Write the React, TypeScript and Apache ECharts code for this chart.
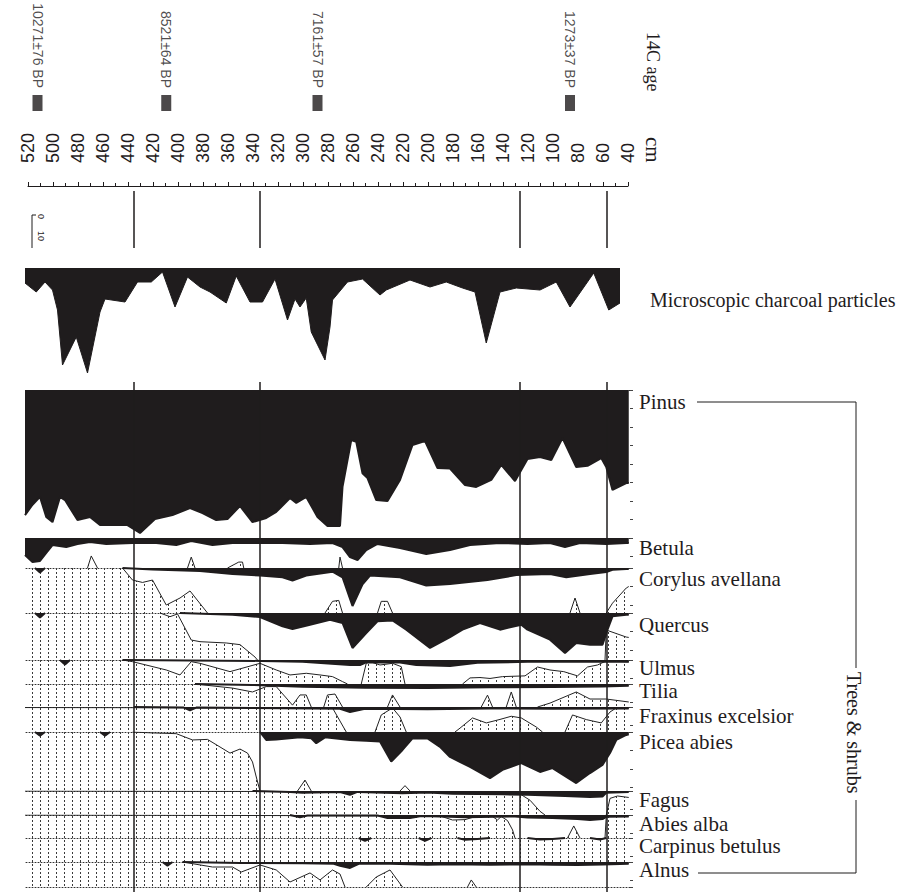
import { useEffect, useRef } from 'react';
import * as echarts from 'echarts';

const INK = '#1f1c1d';

// ---------- data ----------
const dateDepths = [512, 409, 288, 86];
const dateLabels = ['10271±76 BP', '8521±64 BP', '7161±57 BP', '1273±37 BP'];
const zoneDepths = [435, 334, 126, 57];

const charcoal = [[522,7.5],[513,12],[506,7],[500,11],[496,21],[492,48.5],[481,34.5],[472,52.5],[462,22],[458,15.5],[442,17],[432,7],[421,7],[412,2],[402,19.5],[392,4.5],[382,9.5],[374,12],[361,17.5],[353,4],[342,17],[332,17],[322,5.5],[312,26],[306,15.5],[302,19.5],[297,15],[293,32],[282,46],[278,29.5],[276,16],[264,7],[252,5.5],[238,13.5],[233,11],[214,6],[198,9.5],[185,7],[172,10],[162,12],[153,37.5],[142,12],[129,10],[110,11],[97,7],[86,19.5],[67,2.5],[55,21],[46,17.5]];
const charcoalMax = 55;

const taxa = ['Pinus','Betula','Corylus avellana','Quercus','Ulmus','Tilia','Fraxinus excelsior','Picea abies','Fagus','Abies alba','Carpinus betulus','Alnus'];
const taxonMax = [80, 16.2, 24.3, 25.4, 13, 12.4, 13.5, 31.9, 13, 12.4, 13, 13.5];

const pinusPct = [[522,67.6],[516,62],[510,57.8],[505,68.6],[500,71.4],[494,57.8],[490,59.5],[480,70.3],[470,68.6],[462,73],[440,73],[430,77.3],[418,69.7],[404,67.6],[390,63.8],[380,66.5],[369,70.3],[360,69.7],[350,62.7],[340,71.4],[329,69.2],[321,65.9],[310,58.4],[305,61],[297,57.8],[288,68.6],[280,73.5],[270,73.5],[268,52.4],[261,27],[257,28],[252,45],[248,47.6],[241,59.5],[232,60],[222,48.6],[212,29.7],[202,27.6],[192,42.2],[182,42.5],[170,51.4],[161,52.4],[149,48.6],[141,40.5],[130,49.2],[125,43.2],[120,37.3],[110,36.2],[101,37.8],[92,26],[81,41.6],[72,41],[61,36.8],[57,41.6],[52,54],[41,50.3],[39,50.3]];
const pinusExag = [];

const betulaPct = [[522,9.2],[516,13],[510,12.4],[505,8.1],[500,3.8],[489,4.9],[480,3.2],[470,2.2],[457,3.2],[436,2.7],[417,2.7],[401,3.8],[389,1.6],[372,3.8],[356,2.7],[334,2.7],[316,2.7],[294,3.2],[276,2.7],[268,4.9],[262,10.3],[256,11.9],[249,6.5],[240,3.2],[222,5.4],[201,8.6],[182,6.5],[166,3.8],[142,2.7],[120,3.2],[102,2.7],[90,4.9],[78,2.7],[57,3.2],[41,2.7],[39,2.7]];
const betulaExag = [[522,16.2],[472,16.2],[469,9.7],[464,16.2],[392,16.2],[389,10.3],[386,16.2],[360,16.2],[351,13],[348,13],[347,16.2],[271,16.2],[270,10.3],[268,16.2],[39,16.2]];

const corylusPct = [[514,0],[510,2.5],[506,0],[500,'-'],[444,0],[420,0.8],[382,1.6],[356,3.2],[334,4.1],[316,5],[308,6.8],[297,4.1],[276,2],[268,5],[260,20.5],[252,8.8],[246,4.1],[222,5],[201,9.5],[182,8.6],[152,6.5],[129,3.8],[102,3.2],[89,5],[70,3.2],[57,2.2],[52,1],[41,0.5],[39,0.5]];
const corylusExag = [[522,0],[444,0],[436,6.5],[428,7.8],[420,6.5],[409,20],[398,16.2],[390,12.4],[376,24.3],[282,24.3],[276,18],[271,17.5],[268,24.3],[240,24.3],[237,18],[232,18],[228,24.3],[86,24.3],[82,16.2],[78,24.3],[57,24.3],[52,19],[41,10.8],[39,10]];

const quercusPct = [[514,0],[510,2.5],[506,0],[500,'-'],[398,0],[356,0.9],[334,2.2],[316,7.2],[308,8.6],[294,6.3],[278,3.6],[268,5.4],[260,18.9],[249,10.8],[240,4.5],[228,4],[217,9],[198,18.9],[182,13],[172,9],[158,5.4],[142,9],[125,6.3],[120,9],[102,14.4],[90,21.6],[81,16.2],[70,17.1],[60,17.1],[56,9],[52,1.8],[41,0.9],[39,0.9]];
const quercusExag = [[522,0],[414,0],[406,2],[400,0.5],[389,14.6],[382,15.5],[361,16.2],[350,17.1],[338,23.8],[336,25.4],[58,25.4],[57,9.2],[41,13],[39,13.2]];

const ulmusPct = [[494,0],[490,2.5],[486,0],[480,'-'],[444,0],[333,0.5],[300,1],[262,2.7],[254,2.7],[249,1.3],[222,1.3],[209,2.7],[182,3.2],[160,1.5],[120,1],[60,1],[39,1]];
const ulmusExag = [[522,0],[444,0],[436,0.9],[409,5.4],[398,8.1],[389,0.9],[382,1.8],[358,6.3],[334,1.8],[321,5.4],[310,8.1],[297,7.2],[286,8.1],[276,9],[268,11.7],[264,13],[253,13],[249,1.8],[246,0.9],[238,2.7],[228,1.8],[221,3.6],[218,13],[172,13],[166,9.7],[158,9.5],[150,10],[140,9],[122,8.6],[112,3.8],[102,5.4],[91,6.3],[80,8.6],[72,3.8],[64,2.7],[57,0.5],[39,1]];

const tiliaPct = [[386,0],[340,0.5],[300,1.5],[250,2],[200,2.2],[150,1.8],[100,1.6],[60,1.4],[39,1]];
const tiliaExag = [[522,0],[386,0],[356,2.2],[340,4.3],[329,1.4],[321,1.4],[308,11.4],[302,5.9],[297,5.9],[293,12.4],[283,12.4],[280,5.9],[274,5.4],[268,12.4],[232,12.4],[228,5.9],[222,12.4],[157,12.4],[152,6],[148,12.4],[137,12.4],[133,4.3],[129,12.4],[112,12.4],[102,10.3],[81,4.3],[70,8.1],[57,8.1],[39,9.7]];

const fraxinusPct = [[435,0],[395,0.3],[390,1.8],[385,0.3],[340,0.5],[270,1],[262,2.7],[250,1],[200,1.2],[150,0.8],[100,1],[39,0.8]];
const fraxinusExag = [[522,0.3],[276,0.5],[265,13.5],[242,13.5],[237,4.3],[228,0.5],[222,5.4],[217,13.5],[178,13.5],[174,11.4],[164,5.9],[153,8.6],[142,6.7],[133,5],[125,5.9],[113,10.8],[108,13.5],[90,13.5],[84,4.3],[73,6.8],[61,8.6],[54,2.7],[49,0.5],[39,0.5]];

const piceaPct = [[514,0],[510,2],[506,0],[500,'-'],[462,0],[458,2],[454,0],[448,'-'],[334,0],[329,4.3],[321,4],[302,2.9],[293,3.4],[289,6.1],[282,2.9],[262,4.3],[249,4.7],[238,5.2],[229,16],[220,9.7],[212,3.4],[200,3.5],[190,8],[182,13.5],[166,18.9],[150,24.9],[140,20.5],[125,16.8],[110,21.6],[100,19.5],[81,27.6],[70,22.2],[60,17.8],[54,11.4],[49,4.3],[41,1.6],[39,1.2]];
const piceaExag = [[522,0],[436,0],[420,0.5],[401,0.9],[388,4.3],[376,4],[366,8.1],[358,11.4],[350,9.2],[344,11.4],[340,16.2],[337,24.3],[334,31.9],[304,31.9],[298,26],[293,31.9],[222,31.9],[218,29],[214,31.9],[39,31.9]];

const fagusPct = [[340,0],[310,0.5],[300,1],[270,0.5],[262,2],[256,0.5],[220,1.2],[200,0.8],[180,1.5],[140,1.8],[120,2],[90,2.7],[70,3.2],[60,3],[57,1],[39,0.5]];
const fagusExag = [[522,0],[140,0.5],[125,2],[118,5],[110,11],[106,13],[57,13],[54,4],[48,2.7],[39,3.5]];

const abiesPct = [[310,0],[302,1.2],[296,0.3],[240,0.3],[232,1.6],[214,1.6],[205,0.5],[190,0.8],[182,1],[170,1.2],[130,0.8],[120,1.3],[100,1.6],[80,2.2],[70,2.7],[60,2.2],[57,1],[39,0.8]];
const abiesExag = [[522,0],[190,0.5],[180,2.7],[170,2.5],[160,0.5],[148,0.8],[144,2.7],[141,0.8],[136,3],[132,8],[130,12.4],[88,12.4],[83,5.9],[78,12.4],[58,12.4],[57,0.5],[39,0.5]];

const carpinusPct = [[255,0],[250,1.6],[245,0],[240,'-'],[207,0],[202,1.6],[197,0],[192,'-'],[176,0],[170,1],[160,0.6],[150,0],[146,'-'],[120,0],[110,0.8],[100,0.5],[90,0],[86,'-'],[70,0],[62,0.8],[57,0]];
const carpinusExag = [[522,0],[39,0]];

const alnusPct = [[412,0],[408,2],[404,0],[400,'-'],[396,0],[350,0.5],[300,0.7],[275,1],[270,2],[262,3.2],[255,1],[230,1],[200,1.5],[180,1.2],[150,1.5],[120,1.2],[100,1.5],[80,1.6],[60,1.3],[39,1]];
const alnusExag = [[522,0],[396,0],[372,2.7],[356,2.7],[349,5.4],[334,1.6],[321,4.3],[310,10.8],[294,5.9],[286,9.7],[276,4.3],[270,6.5],[266,13.5],[249,13.5],[241,8.1],[230,4.3],[220,13.5],[168,13.5],[165,9.7],[161,13.5],[39,13.5]];

const taxonPct = [pinusPct, betulaPct, corylusPct, quercusPct, ulmusPct, tiliaPct, fraxinusPct, piceaPct, fagusPct, abiesPct, carpinusPct, alnusPct];
const taxonExag = [pinusExag, betulaExag, corylusExag, quercusExag, ulmusExag, tiliaExag, fraxinusExag, piceaExag, fagusExag, abiesExag, carpinusExag, alnusExag];

// ---------- layout ----------
const PANEL_TOPS = [390, 538, 568, 613, 660, 684, 707, 732, 791, 815, 838, 862, 887];
const LABEL_DY = [12, 10, 11, 12, 8, 7, 9, 10, 9, 9, 8, 8];
const PL = 25, PW = 605, DMIN = 38, DMAX = 522;
const SERIF = '"Liberation Serif", "Times New Roman", serif';
const SANS = '"Liberation Sans", Arial, sans-serif';

// stroke of exaggeration curve: hide runs lying on the panel's top or bottom edge
function strokeOf(pts: any[], max: number) {
  const edge = (v: number) => (v <= 0 ? -1 : v >= max ? 1 : 0);
  const out: any[] = [];
  for (let i = 0; i < pts.length; i++) {
    out.push(pts[i]);
    const nx = pts[i + 1];
    if (nx) {
      const a = edge(pts[i][1]), b = edge(nx[1]);
      if (a !== 0 && a === b) out.push([(pts[i][0] + nx[0]) / 2, '-']);
    }
  }
  return out;
}

export default function App() {
  const ref = useRef<HTMLDivElement>(null);
  useEffect(() => {
    const chart = echarts.init(ref.current!, undefined, { renderer: 'svg' });
    const dot = document.createElement('canvas');
    dot.width = 8; dot.height = 4;
    const ctx = dot.getContext('2d')!;
    ctx.fillStyle = '#3a3a3a';
    ctx.fillRect(0, 0, 1, 2);
    const pattern = { image: dot, repeat: 'repeat' };

    const grids: any[] = [], xAxes: any[] = [], yAxes: any[] = [], series: any[] = [], graphics: any[] = [];
    const hidden = { show: false };
    function addGrid(g: any, x: any, y: any) {
      const i = grids.length;
      grids.push({ outerBoundsMode: 'none', containLabel: false, ...g });
      xAxes.push({ gridIndex: i, type: 'value', splitLine: hidden, axisTick: hidden, axisLabel: hidden, axisLine: hidden, ...x });
      yAxes.push({ gridIndex: i, type: 'value', splitLine: hidden, axisTick: hidden, axisLabel: hidden, axisLine: hidden, ...y });
      return i;
    }
    const depthX = { min: DMIN, max: DMAX, inverse: true };

    // dates
    const gd = addGrid({ left: PL, width: PW, top: 95, height: 16 }, depthX, { min: 0, max: 1 });
    series.push({
      type: 'scatter', xAxisIndex: gd, yAxisIndex: gd, silent: true,
      data: dateDepths.map((d) => [d, 0.5]), symbol: 'rect', symbolSize: [10, 16],
      itemStyle: { color: INK },
      label: {
        show: true, position: 'top', distance: 7, rotate: -90, align: 'right', verticalAlign: 'middle',
        formatter: (p: any) => dateLabels[p.dataIndex], fontSize: 14, fontFamily: SANS, color: INK,
      },
    });

    // depth axis
    addGrid({ left: 28, width: 600, top: 186, height: 2 }, {
      min: 40, max: 520, interval: 20, inverse: true, position: 'top',
      axisLine: { show: true, onZero: false, lineStyle: { color: INK, width: 1 } },
      axisTick: { show: true, length: 4, lineStyle: { color: INK } },
      minorTick: { show: true, splitNumber: 2, length: 3, lineStyle: { color: INK } },
      axisLabel: { show: true, rotate: -90, margin: 23, interval: 0, fontSize: 18, fontFamily: SANS, color: INK },
    }, { min: 0, max: 1 });

    // zone lines (top band and lower panels)
    const zoneSeries = (gi: number) => ({
      type: 'line', xAxisIndex: gi, yAxisIndex: gi, silent: true, z: 10,
      data: zoneDepths.map((d) => [d, 0]), symbol: 'none', lineStyle: { opacity: 0 },
      markLine: {
        silent: true, symbol: ['none', 'none'], label: { show: false },
        lineStyle: { color: INK, width: 1.5, type: 'solid' },
        data: zoneDepths.map((d) => ({ xAxis: d })),
      },
    });
    const gz1 = addGrid({ left: PL, width: PW, top: 191, height: 57 }, depthX, { min: 0, max: 1 });
    series.push(zoneSeries(gz1));

    // charcoal
    const gc = addGrid({ left: PL, width: PW, top: 268, height: 110 }, depthX, { min: 0, max: charcoalMax, inverse: true });
    series.push({
      type: 'line', xAxisIndex: gc, yAxisIndex: gc, silent: true, data: charcoal, symbol: 'none',
      lineStyle: { color: INK, width: 1 }, areaStyle: { color: INK, opacity: 1 },
    });
    graphics.push({ type: 'text', x: 650, y: 300, style: { text: 'Microscopic charcoal particles', font: `20px ${SERIF}`, fill: INK, align: 'left', verticalAlign: 'middle', textAlign: 'left', textVerticalAlign: 'middle' } });

    // taxa panels
    for (let t = 0; t < taxa.length; t++) {
      const top = PANEL_TOPS[t];
      const h = PANEL_TOPS[t + 1] - top;
      const gi = addGrid({ left: PL, width: PW, top, height: h }, {
        ...depthX, position: 'top',
        axisLine: { show: true, onZero: false, lineStyle: { color: '#333', width: 1, type: [1, 2] } },
      }, {
        min: 0, max: taxonMax[t], inverse: true, position: 'right', interval: 10,
        axisTick: { show: true, length: 3, lineStyle: { color: '#444' } },
      });
      if (taxonExag[t].length) {
        series.push({
          type: 'line', xAxisIndex: gi, yAxisIndex: gi, silent: true, z: 2, data: taxonExag[t], symbol: 'none',
          lineStyle: { width: 0, opacity: 0 }, areaStyle: { color: pattern, opacity: 1, origin: 'end' },
        });
        series.push({
          type: 'line', xAxisIndex: gi, yAxisIndex: gi, silent: true, z: 2, data: strokeOf(taxonExag[t], taxonMax[t]), symbol: 'none',
          lineStyle: { color: '#222', width: 1 },
        });
      }
      series.push({
        type: 'line', xAxisIndex: gi, yAxisIndex: gi, silent: true, z: 3, data: taxonPct[t], symbol: 'none',
        lineStyle: { color: INK, width: 2 }, areaStyle: { color: INK, opacity: 1 },
      });
      graphics.push({ type: 'text', x: 639, y: top + LABEL_DY[t], style: { text: taxa[t], font: `21px ${SERIF}`, fill: INK, align: 'left', verticalAlign: 'middle', textAlign: 'left', textVerticalAlign: 'middle' } });
    }
    // next (cut-off) panel top line
    addGrid({ left: PL, width: PW, top: PANEL_TOPS[12], height: 20 }, {
      ...depthX, position: 'top',
      axisLine: { show: true, onZero: false, lineStyle: { color: '#333', width: 1, type: [1, 2] } },
    }, { min: 0, max: 10, inverse: true });

    const gz2 = addGrid({ left: PL, width: PW, top: 382, height: 510 }, depthX, { min: 0, max: 1 });
    series.push(zoneSeries(gz2));

    // texts and brackets
    const rot = (x: number, y: number, text: string, font: string) => ({
      type: 'text', x, y, rotation: -Math.PI / 2,
      style: { text, font, fill: INK, align: 'left', verticalAlign: 'middle', textAlign: 'left', textVerticalAlign: 'middle' },
    });
    graphics.push(rot(653, 32, '14C age', `18px ${SERIF}`));
    graphics.push(rot(653, 137, 'cm', `21px ${SERIF}`));
    graphics.push(rot(854, 672, 'Trees & shrubs', `20px ${SERIF}`));
    graphics.push({ type: 'polyline', shape: { points: [[697, 402], [856, 402], [856, 668]] }, style: { stroke: INK, lineWidth: 1, fill: null } });
    graphics.push({ type: 'polyline', shape: { points: [[856, 800], [856, 873], [698, 873]] }, style: { stroke: INK, lineWidth: 1, fill: null } });
    // charcoal scale bar
    graphics.push({ type: 'polyline', shape: { points: [[36, 215], [32, 215], [32, 248]] }, style: { stroke: INK, lineWidth: 1, fill: null } });
    graphics.push(rot(41, 214, '0', `9px ${SANS}`));
    graphics.push(rot(41, 231, '10', `9px ${SANS}`));

    chart.setOption({ animation: false, grid: grids, xAxis: xAxes, yAxis: yAxes, series, graphic: graphics });
    return () => chart.dispose();
  }, []);
  return <div ref={ref} style={{ position: 'fixed', left: 0, top: 0, width: 902, height: 892, background: '#fff' }} />;
}
